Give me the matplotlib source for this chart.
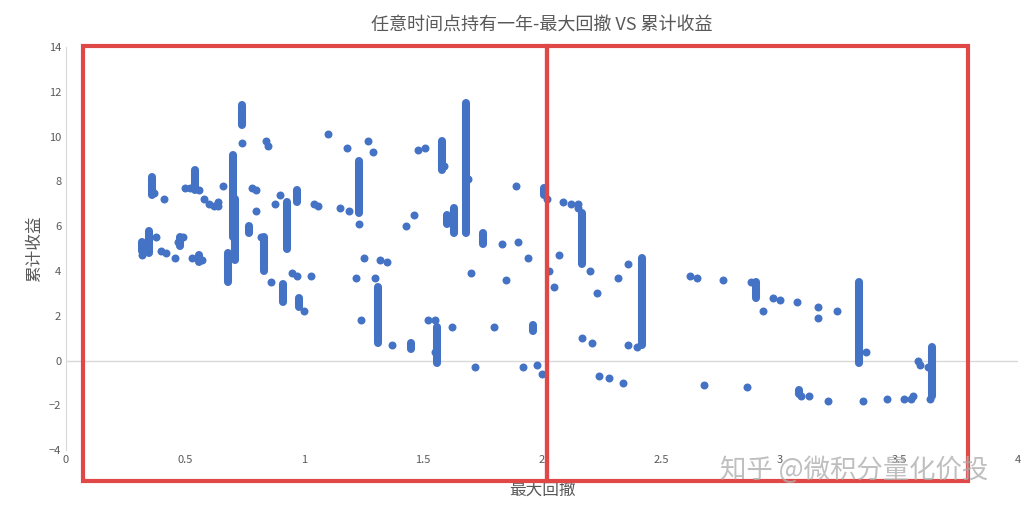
import numpy as np
import matplotlib.pyplot as plt
from matplotlib.patches import Rectangle

plt.rcParams['font.family'] = ['Noto Sans CJK SC', 'DejaVu Sans']

# single points: max drawdown (x) and cumulative return (y)
px = [0.32, 0.32, 0.38, 0.40, 0.42, 0.41, 0.37, 0.46, 0.47, 0.49, 0.50, 0.52, 0.53, 0.56, 0.57,
      0.58, 0.60, 0.62, 0.64, 0.64, 0.66, 0.74, 0.78, 0.80, 0.80, 0.82, 0.84, 0.85, 0.86, 0.88,
      0.90, 0.95, 0.97, 1.00, 1.03, 1.04, 1.06, 1.10, 1.15, 1.18, 1.19, 1.22, 1.23, 1.24, 1.25,
      1.27, 1.29, 1.30, 1.32, 1.35, 1.37, 1.43, 1.46, 1.48, 1.51, 1.52, 1.55, 1.55, 1.59, 1.62,
      1.69, 1.70, 1.72, 1.80, 1.83, 1.85, 1.89, 1.90, 1.92, 1.94, 1.98, 2.00, 2.02, 2.03, 2.05,
      2.07, 2.09, 2.12, 2.15, 2.15, 2.17, 2.20, 2.21, 2.23, 2.24, 2.28, 2.32, 2.34, 2.36, 2.36,
      2.40, 2.62, 2.65, 2.68, 2.76, 2.86, 2.88, 2.93, 2.97, 3.00, 3.07, 3.09, 3.12, 3.16, 3.16,
      3.20, 3.24, 3.35, 3.36, 3.45, 3.52, 3.55, 3.56, 3.58, 3.59, 3.62, 3.63]
py = [4.7, 5.2, 5.5, 4.9, 4.8, 7.2, 7.5, 4.6, 5.3, 5.5, 7.7, 7.7, 4.6, 7.6, 4.5,
      7.2, 7.0, 6.9, 7.1, 6.9, 7.8, 9.7, 7.7, 7.6, 6.7, 5.5, 9.8, 9.6, 3.5, 7.0,
      7.4, 3.9, 3.8, 2.2, 3.8, 7.0, 6.9, 10.1, 6.8, 9.5, 6.7, 3.7, 6.1, 1.8, 4.6,
      9.8, 9.3, 3.7, 4.5, 4.4, 0.7, 6.0, 6.5, 9.4, 9.5, 1.8, 1.8, 0.4, 8.7, 1.5,
      8.1, 3.9, -0.3, 1.5, 5.2, 3.6, 7.8, 5.3, -0.3, 4.6, -0.2, -0.6, 7.2, 4.0, 3.3,
      4.7, 7.1, 7.0, 6.8, 7.0, 1.0, 4.0, 0.8, 3.0, -0.7, -0.8, 3.7, -1.0, 0.7, 4.3,
      0.6, 3.8, 3.7, -1.1, 3.6, -1.2, 3.5, 2.2, 2.8, 2.7, 2.6, -1.6, -1.6, 2.4, 1.9,
      -1.8, 2.2, -1.8, 0.4, -1.7, -1.7, -1.7, -1.6, 0.0, -0.2, -0.3, -1.7]

# dense vertical runs of points: x, lowest y, highest y
cx = [0.32, 0.35, 0.36, 0.48, 0.54, 0.56, 0.68, 0.70, 0.71, 0.74, 0.77, 0.83, 0.91, 0.93, 0.97,
      0.98, 1.23, 1.31, 1.45, 1.56, 1.58, 1.60, 1.63, 1.68, 1.75, 1.96, 2.01, 2.17, 2.42, 2.90,
      3.08, 3.33, 3.64]
cy0 = [4.9, 4.8, 7.4, 5.1, 7.6, 4.4, 3.5, 5.5, 4.5, 10.5, 5.7, 4.0, 2.6, 5.0, 7.1,
       2.4, 6.6, 0.8, 0.5, -0.1, 8.5, 6.1, 5.7, 5.7, 5.2, 1.3, 7.4, 4.3, 0.7, 2.8,
       -1.5, -0.1, -1.6]
cy1 = [5.3, 5.8, 8.2, 5.5, 8.5, 4.7, 4.8, 9.2, 7.2, 11.4, 6.0, 5.5, 3.4, 7.1, 7.6,
       2.8, 8.9, 3.3, 0.8, 1.5, 9.8, 6.5, 6.8, 11.5, 5.7, 1.6, 7.7, 6.6, 4.6, 3.5,
       -1.3, 3.5, 0.6]

blue = '#4472c4'
gray = '#595959'

fig = plt.figure(figsize=(10.36, 5.18), dpi=100)
ax = fig.add_axes([0.0637, 0.131, 0.919, 0.778])
ax.scatter(px, py, s=33, color=blue, linewidths=0, zorder=3)
ax.vlines(cx, cy0, cy1, color=blue, linewidth=5.8, capstyle='round', zorder=3)

ax.set_xlim(0, 4)
ax.set_ylim(-4, 14)
ax.set_xticks(np.arange(0, 4.01, 0.5))
ax.set_xticklabels(['0', '0.5', '1', '1.5', '2', '2.5', '3', '3.5', '4'])
ax.set_yticks(np.arange(-4, 15, 2))
ax.tick_params(length=0, labelsize=8, colors=gray)
for s in ['top', 'right', 'bottom']:
    ax.spines[s].set_visible(False)
ax.spines['left'].set_color('#d9d9d9')
ax.axhline(0, color='#d9d9d9', lw=1, zorder=1)

ax.set_title('任意时间点持有一年-最大回撤 VS 累计收益', fontsize=13, color=gray, pad=12)
ax.set_xlabel('最大回撤', fontsize=12, color=gray, labelpad=12)
ax.set_ylabel('累计收益', fontsize=12, color=gray)

# red annotation boxes
ax.add_patch(Rectangle((0.07, -5.36), 1.95, 19.42, fill=False, ec='#e04848', lw=3, clip_on=False, zorder=4))
ax.add_patch(Rectangle((2.02, -5.36), 1.77, 19.42, fill=False, ec='#e04848', lw=3, clip_on=False, zorder=4))

fig.text(0.824, 0.093, '知乎 @微积分量化价投', fontsize=19, color='#b0b0b0', ha='center', va='center', alpha=0.8)

fig.savefig('out.png', dpi=100)
